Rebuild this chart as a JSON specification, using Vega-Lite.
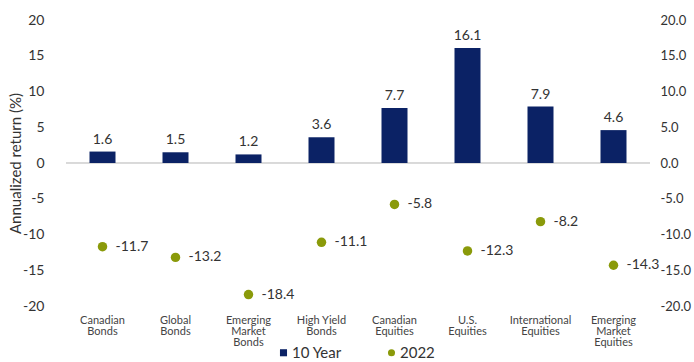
{
  "$schema": "https://vega.github.io/schema/vega-lite/v6.json",
  "width": 584,
  "height": 286,
  "autosize": "none",
  "padding": {"left": 66, "top": 20, "right": 44, "bottom": 56},
  "config": {
    "font": "Lato",
    "locale": {"number": {"decimal": ".", "thousands": ",", "grouping": [3], "currency": ["$", ""], "minus": "-"}},
    "view": {"stroke": null},
    "axis": {"grid": false, "ticks": false, "domain": false, "labelColor": "#333333", "titleColor": "#333333"}
  },
  "data": {
    "values": [
      {"cat": "Canadian|Bonds", "series": "10 Year", "value": 1.6},
      {"cat": "Global|Bonds", "series": "10 Year", "value": 1.5},
      {"cat": "Emerging|Market|Bonds", "series": "10 Year", "value": 1.2},
      {"cat": "High Yield|Bonds", "series": "10 Year", "value": 3.6},
      {"cat": "Canadian|Equities", "series": "10 Year", "value": 7.7},
      {"cat": "U.S.|Equities", "series": "10 Year", "value": 16.1},
      {"cat": "International|Equities", "series": "10 Year", "value": 7.9},
      {"cat": "Emerging|Market|Equities", "series": "10 Year", "value": 4.6},
      {"cat": "Canadian|Bonds", "series": "2022", "value": -11.7},
      {"cat": "Global|Bonds", "series": "2022", "value": -13.2},
      {"cat": "Emerging|Market|Bonds", "series": "2022", "value": -18.4},
      {"cat": "High Yield|Bonds", "series": "2022", "value": -11.1},
      {"cat": "Canadian|Equities", "series": "2022", "value": -5.8},
      {"cat": "U.S.|Equities", "series": "2022", "value": -12.3},
      {"cat": "International|Equities", "series": "2022", "value": -8.2},
      {"cat": "Emerging|Market|Equities", "series": "2022", "value": -14.3}
    ]
  },
  "encoding": {
    "x": {
      "field": "cat", "type": "nominal", "sort": null, "title": null,
      "scale": {"paddingInner": 0.64, "paddingOuter": 0.32},
      "axis": {"labelAngle": 0, "labelExpr": "split(datum.label, '|')", "labelFontSize": 11, "labelLineHeight": 11, "labelPadding": 8, "labelColor": "#444444"}
    }
  },
  "layer": [
    {
      "mark": {"type": "rule", "color": "#d9d9d9", "strokeWidth": 1},
      "encoding": {"y": {"datum": 0, "type": "quantitative", "scale": {"domain": [-20, 20]}, "axis": null}, "x": null}
    },
    {
      "transform": [{"filter": "datum.series == '10 Year'"}],
      "mark": {"type": "bar", "width": 26},
      "encoding": {
        "y": {"field": "value", "type": "quantitative", "scale": {"domain": [-20, 20]},
          "title": "Annualized return (%)",
          "axis": {"values": [-20, -15, -10, -5, 0, 5, 10, 15, 20], "labelFontSize": 14, "labelPadding": 22, "titleFontSize": 15, "titleFontWeight": "normal", "titleX": -51, "titleY": 143, "titleBaseline": "middle", "titleAlign": "center"}},
        "color": {"field": "series", "type": "nominal", "scale": {"domain": ["10 Year", "2022"], "range": ["#0b2265", "#8a9a0a"]}}
      }
    },
    {
      "transform": [{"filter": "datum.series == '10 Year'"}],
      "mark": {"type": "text", "dy": -12, "fontSize": 14, "color": "#333333"},
      "encoding": {
        "y": {"field": "value", "type": "quantitative", "scale": {"domain": [-20, 20]}, "axis": null},
        "text": {"field": "value", "type": "quantitative", "format": ".1f"}
      }
    },
    {
      "transform": [{"filter": "datum.series == '2022'"}],
      "mark": {"type": "point", "filled": true, "size": 90, "opacity": 1},
      "encoding": {
        "y": {"field": "value", "type": "quantitative", "scale": {"domain": [-20, 20]}, "axis": null},
        "color": {"field": "series", "type": "nominal", "scale": {"domain": ["10 Year", "2022"], "range": ["#0b2265", "#8a9a0a"]},
          "legend": {"title": null, "orient": "none", "direction": "horizontal", "legendX": 210, "legendY": 325, "labelFontSize": 15, "labelColor": "#333333", "symbolSize": 50, "columnPadding": 42, "labelOffset": 1}},
        "shape": {"field": "series", "type": "nominal", "scale": {"domain": ["10 Year", "2022"], "range": ["square", "circle"]},
          "legend": {"title": null, "orient": "none", "direction": "horizontal", "legendX": 210, "legendY": 325, "labelFontSize": 15, "labelColor": "#333333", "symbolSize": 50, "columnPadding": 42, "labelOffset": 1}}
      }
    },
    {
      "transform": [{"filter": "datum.series == '2022'"}],
      "mark": {"type": "text", "align": "left", "dx": 13, "fontSize": 14, "color": "#333333"},
      "encoding": {
        "y": {"field": "value", "type": "quantitative", "scale": {"domain": [-20, 20]}, "axis": null},
        "text": {"field": "value", "type": "quantitative", "format": ".1f"}
      }
    },
    {
      "mark": {"type": "point", "opacity": 0},
      "encoding": {
        "y": {"datum": 0, "type": "quantitative", "scale": {"domain": [-20, 20]},
          "axis": {"orient": "right", "values": [-20, -15, -10, -5, 0, 5, 10, 15, 20], "format": ".1f", "labelFontSize": 13, "labelPadding": 10, "title": null}}
      }
    }
  ],
  "resolve": {"scale": {"y": "independent"}}
}
